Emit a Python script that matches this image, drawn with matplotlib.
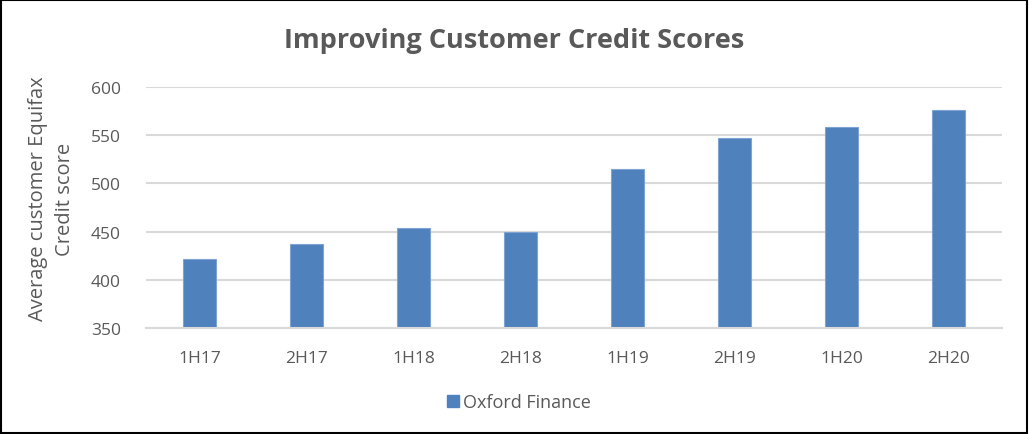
import matplotlib
matplotlib.use("Agg")
import matplotlib.pyplot as plt
from matplotlib.patches import Rectangle

categories = ["1H17", "2H17", "1H18", "2H18", "1H19", "2H19", "1H20", "2H20"]
scores = [421, 437, 454, 450, 515, 547, 559, 576]
series_name = "Oxford Finance"
yticks = [350, 400, 450, 500, 550, 600]

plt.rcParams['font.family'] = ['Open Sans', 'DejaVu Sans']
txt = '#595959'
grid = '#d9d9d9'
bar_color = '#4f81bd'

fig = plt.figure(figsize=(10.29, 4.35), dpi=100)
ax = fig.add_axes([146/1029, 1-328.7/435, (1002-146)/1029, (328.7-88.3)/435])

x = list(range(len(categories)))
ax.bar(x, scores, width=0.31, color=bar_color, edgecolor='#7fa3d3', linewidth=0.8,
       label=series_name, zorder=3)
ax.set_ylim(350, 600)
ax.set_xlim(-0.5, len(categories) - 0.5)
ax.set_yticks(yticks)
ax.set_xticks(x)
ax.set_xticklabels(categories)
ax.yaxis.grid(True, color=grid, linewidth=1.5, zorder=0)
ax.set_axisbelow(True)
for s in ['top', 'right', 'left']:
    ax.spines[s].set_visible(False)
ax.spines['bottom'].set_color(grid)
ax.spines['bottom'].set_linewidth(1.5)
ax.spines['bottom'].set_zorder(4)
ax.tick_params(axis='both', length=0, labelsize=12.5, labelcolor=txt)
ax.tick_params(axis='x', pad=16)
ax.tick_params(axis='y', pad=18)

fig.text(0.5, 1-41/435, "Improving Customer Credit Scores", ha='center', va='center',
         fontsize=19.5, fontweight='bold', color=txt)
fig.text(51.5/1029, 1-199/435, "Average customer Equifax\nCredit score", ha='center', va='center',
         rotation=90, fontsize=14.5, color=txt, linespacing=1.45)

handle = Rectangle((0, 0), 1, 1, color=bar_color)
fig.legend([handle], [series_name], loc='center', bbox_to_anchor=(519/1029, 1-403/435),
           frameon=False, fontsize=13, labelcolor=txt, handlelength=0.65, handleheight=0.65,
           handletextpad=0.25)

fig.add_artist(Rectangle((0.001, 0.002), 0.997, 0.995, transform=fig.transFigure,
                         fill=False, edgecolor='black', linewidth=1.5))

fig.savefig("out.png", dpi=100)
